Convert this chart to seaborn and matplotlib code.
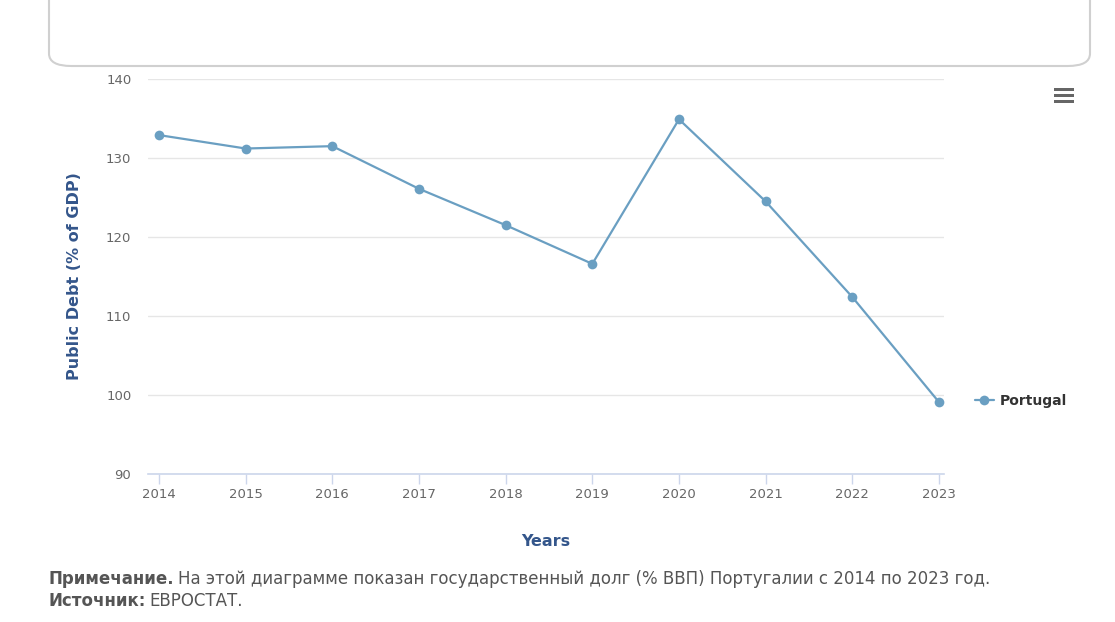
import matplotlib
matplotlib.use("Agg")
import matplotlib.pyplot as plt
import seaborn as sns
import pandas as pd
from matplotlib.patches import FancyBboxPatch, Rectangle
from matplotlib.lines import Line2D

years = [2014, 2015, 2016, 2017, 2018, 2019, 2020, 2021, 2022, 2023]
debt = [132.9, 131.2, 131.5, 126.1, 121.5, 116.6, 134.9, 124.5, 112.4, 99.1]
yticks = [90, 100, 110, 120, 130, 140]
series_name = "Portugal"

sns.set_theme(style="white")
plt.rcParams['font.family'] = ['DejaVu Sans']

W, H = 1115, 622
fig = plt.figure(figsize=(W / 100, H / 100), dpi=100)
ax = fig.add_axes([148 / W, 1 - 474 / H, (944 - 148) / W, (474 - 79) / H])

df = pd.DataFrame({"Year": years, "Debt": debt, "Country": series_name})
color = "#6a9fc2"
sns.lineplot(data=df, x="Year", y="Debt", ax=ax, color=color, marker="o",
             markersize=7, markeredgewidth=0, linewidth=1.6, legend=False)

ax.set_xlim(2014 - 0.127, 2023 + 0.058)
ax.set_ylim(90, 140)
ax.set_yticks(yticks)
ax.set_xticks(years)
ax.set_xticklabels([str(y) for y in years])
ax.yaxis.grid(True, color="#e6e6e6", linewidth=1)
ax.xaxis.grid(False)
for s in ["top", "right", "left"]:
    ax.spines[s].set_visible(False)
ax.spines["bottom"].set_color("#ccd6eb")
ax.spines["bottom"].set_linewidth(1.2)
ax.tick_params(axis="x", length=7, width=1, color="#ccd6eb", labelsize=9.5,
               labelcolor="#666666", pad=3, bottom=True)
ax.tick_params(axis="y", length=0, labelsize=9.5, labelcolor="#666666", pad=12)

ax.set_xlabel("Years", fontsize=11.5, fontweight="bold", color="#34568b", labelpad=24)
ax.set_ylabel("Public Debt (% of GDP)", fontsize=11.5, fontweight="bold", color="#34568b",
              labelpad=17)
ax.set_axisbelow(True)

# legend
handle = Line2D([0], [0], color=color, marker="o", markersize=7, markeredgewidth=0,
                linewidth=1.6)
leg = fig.legend([handle], [series_name], loc="center left",
                 bbox_to_anchor=(962 / W, 1 - 401 / H), frameon=False,
                 handlelength=1.4, handletextpad=0.45,
                 prop={"weight": "bold", "size": 10})
for t in leg.get_texts():
    t.set_color("#333333")

# top rounded box remnant
box = FancyBboxPatch((49 / W, 1 - 66 / H), (1090 - 49) / W, 0.2,
                     boxstyle="round,pad=0,rounding_size=0.02",
                     transform=fig.transFigure, facecolor="white",
                     edgecolor="#d0d0d0", linewidth=1.5, clip_on=False)
fig.patches.append(box)

# menu icon
for yy in [89, 95, 101]:
    fig.patches.append(Rectangle((1054 / W, 1 - (yy + 2) / H), 20 / W, 3.5 / H,
                                 transform=fig.transFigure, facecolor="#666666",
                                 edgecolor="none"))

# footer
fig.canvas.draw()
renderer = fig.canvas.get_renderer()
def two_part(y, bold, regular):
    t1 = fig.text(48 / W, 1 - y / H, bold, fontsize=12, fontweight="bold",
                  color="#555555", va="center", ha="left")
    bb = t1.get_window_extent(renderer=renderer)
    fig.text((bb.x1 + 4) / W, 1 - y / H, regular, fontsize=12, color="#555555",
             va="center", ha="left")

two_part(579, "Примечание.", "На этой диаграмме показан государственный долг (% ВВП) Португалии с 2014 по 2023 год.")
two_part(601, "Источник:", "ЕВРОСТАТ.")

fig.savefig("out.png", dpi=100)
